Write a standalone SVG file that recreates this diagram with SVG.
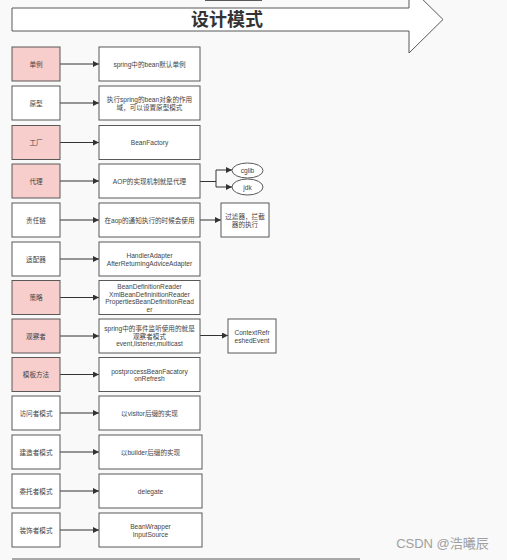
<svg xmlns="http://www.w3.org/2000/svg" width="507" height="560" viewBox="0 0 507 560">
<style>
  .bg{fill:#f9f9f9}
  .box{fill:#ffffff;stroke:#595959;stroke-width:1}
  .pink{fill:#f8cecc;stroke:#595959;stroke-width:1}
  .t{font-family:"Liberation Sans","Noto Sans CJK SC",sans-serif;font-size:6.6px;fill:#444444;text-anchor:middle;dominant-baseline:central}
  .title{font-family:"Liberation Sans","Noto Sans CJK SC",sans-serif;font-size:18px;font-weight:bold;fill:#333333;text-anchor:middle;dominant-baseline:central}
  .wm{font-family:"Liberation Sans","Noto Sans CJK SC",sans-serif;font-size:13px;fill:#a0a0a0;text-anchor:middle;dominant-baseline:central}
  .ln{fill:none;stroke:#333333;stroke-width:1}
</style>
<defs>
  <marker id="ah" viewBox="0 0 10 10" refX="10" refY="5" markerWidth="7" markerHeight="6" markerUnits="userSpaceOnUse" orient="auto">
    <path d="M0,0 L10,5 L0,10 Z" fill="#333333"/>
  </marker>
</defs>
<rect class="bg" x="0" y="0" width="507" height="560"/>
<line x1="205" y1="0.5" x2="262" y2="0.5" stroke="#595959" stroke-width="1"/>

<g id="title">
  <polygon class="box" points="12,8 409,8 409,-14 443,19.5 409,53 409,31 12,31"/>
  <text class="title" x="227" y="20">设计模式</text>
</g>

<g id="connectors">
  <line class="ln" x1="60" y1="64" x2="99" y2="64" marker-end="url(#ah)"/>
  <line class="ln" x1="60" y1="103" x2="99" y2="103" marker-end="url(#ah)"/>
  <line class="ln" x1="60" y1="142.5" x2="99" y2="142.5" marker-end="url(#ah)"/>
  <line class="ln" x1="60" y1="181" x2="99" y2="181" marker-end="url(#ah)"/>
  <line class="ln" x1="60" y1="220" x2="99" y2="220" marker-end="url(#ah)"/>
  <line class="ln" x1="60" y1="259" x2="99" y2="259" marker-end="url(#ah)"/>
  <line class="ln" x1="60" y1="297.5" x2="99" y2="297.5" marker-end="url(#ah)"/>
  <line class="ln" x1="60" y1="336" x2="99" y2="336" marker-end="url(#ah)"/>
  <line class="ln" x1="60" y1="374.5" x2="99" y2="374.5" marker-end="url(#ah)"/>
  <line class="ln" x1="60" y1="413" x2="99" y2="413" marker-end="url(#ah)"/>
  <line class="ln" x1="60" y1="452" x2="99" y2="452" marker-end="url(#ah)"/>
  <line class="ln" x1="60" y1="491" x2="99" y2="491" marker-end="url(#ah)"/>
  <line class="ln" x1="60" y1="530" x2="99" y2="530" marker-end="url(#ah)"/>
  <polyline class="ln" points="200,181.5 216,181.5 216,170 232,170" marker-end="url(#ah)"/>
  <polyline class="ln" points="216,181.5 216,187 232,187" marker-end="url(#ah)"/>
  <line class="ln" x1="200" y1="220" x2="221" y2="220" marker-end="url(#ah)"/>
  <line class="ln" x1="200" y1="335.5" x2="228" y2="335.5" marker-end="url(#ah)"/>
</g>

<g id="n-singleton"><rect class="pink" x="12" y="47" width="48" height="34"/><text class="t" x="36" y="64">单例</text></g>
<g id="n-singleton-d"><rect class="box" x="99" y="47" width="101" height="34"/><text class="t" x="149.5" y="64">spring中的bean默认单例</text></g>

<g id="n-prototype"><rect class="box" x="12" y="86" width="48" height="34"/><text class="t" x="36" y="103">原型</text></g>
<g id="n-prototype-d"><rect class="box" x="99" y="86" width="101" height="34"/><text class="t" x="149.5" y="99">执行spring的bean对象的作用</text><text class="t" x="149.5" y="107">域，可以设置原型模式</text></g>

<g id="n-factory"><rect class="pink" x="12" y="125.5" width="48" height="34"/><text class="t" x="36" y="142.5">工厂</text></g>
<g id="n-factory-d"><rect class="box" x="99" y="125.5" width="101" height="34"/><text class="t" x="149.5" y="142.5">BeanFactory</text></g>

<g id="n-proxy"><rect class="pink" x="12" y="164" width="48" height="34"/><text class="t" x="36" y="181">代理</text></g>
<g id="n-proxy-d"><rect class="box" x="99" y="164" width="101" height="34"/><text class="t" x="149.5" y="181">AOP的实现机制就是代理</text></g>
<g id="n-cglib"><ellipse class="box" cx="247.5" cy="170.5" rx="15.5" ry="7.5"/><text class="t" x="247.5" y="170.5">cglib</text></g>
<g id="n-jdk"><ellipse class="box" cx="247.5" cy="187" rx="15.5" ry="8"/><text class="t" x="247.5" y="187">jdk</text></g>

<g id="n-chain"><rect class="box" x="12" y="203" width="48" height="34"/><text class="t" x="36" y="220">责任链</text></g>
<g id="n-chain-d"><rect class="box" x="99" y="203" width="101" height="34"/><text class="t" x="149.5" y="220">在aop的通知执行的时候会使用</text></g>
<g id="n-chain-r"><rect class="box" x="221" y="203" width="48" height="34"/><text class="t" x="245" y="216.5">过滤器，拦截</text><text class="t" x="245" y="224.5">器的执行</text></g>

<g id="n-adapter"><rect class="box" x="12" y="242" width="48" height="34"/><text class="t" x="36" y="259">适配器</text></g>
<g id="n-adapter-d"><rect class="box" x="99" y="242" width="101" height="34"/><text class="t" x="149.5" y="255">HandlerAdapter</text><text class="t" x="149.5" y="263">AfterReturningAdviceAdapter</text></g>

<g id="n-strategy"><rect class="pink" x="12" y="280.5" width="48" height="34"/><text class="t" x="36" y="297.5">策略</text></g>
<g id="n-strategy-d"><rect class="box" x="99" y="280.5" width="101" height="34"/><text class="t" x="149.5" y="286.5">BeanDefinitionReader</text><text class="t" x="149.5" y="294.2">XmlBeanDefininitionReader</text><text class="t" x="149.5" y="301.9">PropertiesBeanDefinitionRead</text><text class="t" x="149.5" y="309.6">er</text></g>

<g id="n-observer"><rect class="pink" x="12" y="319" width="48" height="34"/><text class="t" x="36" y="336">观察者</text></g>
<g id="n-observer-d"><rect class="box" x="99" y="319" width="101" height="34"/><text class="t" x="149.5" y="328.7">spring中的事件监听使用的就是</text><text class="t" x="149.5" y="336.2">观察者模式</text><text class="t" x="149.5" y="343.7">event,listener,multicast</text></g>
<g id="n-observer-r"><rect class="box" x="228" y="319" width="48" height="34"/><text class="t" x="252" y="332">ContextRefr</text><text class="t" x="252" y="340">eshedEvent</text></g>

<g id="n-template"><rect class="pink" x="12" y="357.5" width="48" height="34"/><text class="t" x="36" y="374.5">模板方法</text></g>
<g id="n-template-d"><rect class="box" x="99" y="357.5" width="101" height="34"/><text class="t" x="149.5" y="371">postprocessBeanFacatory</text><text class="t" x="149.5" y="378.5">onRefresh</text></g>

<g id="n-visitor"><rect class="box" x="12" y="396" width="48" height="34"/><text class="t" x="36" y="413">访问者模式</text></g>
<g id="n-visitor-d"><rect class="box" x="99" y="396" width="101" height="34"/><text class="t" x="149.5" y="413">以visitor后缀的实现</text></g>

<g id="n-builder"><rect class="box" x="12" y="435" width="48" height="34"/><text class="t" x="36" y="452">建造者模式</text></g>
<g id="n-builder-d"><rect class="box" x="99" y="435" width="103" height="34"/><text class="t" x="150.5" y="452">以builder后缀的实现</text></g>

<g id="n-delegate"><rect class="box" x="12" y="474" width="48" height="34"/><text class="t" x="36" y="491">委托者模式</text></g>
<g id="n-delegate-d"><rect class="box" x="99" y="474" width="103" height="34"/><text class="t" x="150.5" y="491">delegate</text></g>

<g id="n-decorator"><rect class="box" x="12" y="513" width="48" height="34"/><text class="t" x="36" y="530">装饰者模式</text></g>
<g id="n-decorator-d"><rect class="box" x="99" y="513" width="103" height="34"/><text class="t" x="150.5" y="526">BeanWrapper</text><text class="t" x="150.5" y="534">InputSource</text></g>

<line x1="12" y1="559" x2="360" y2="559" stroke="#595959" stroke-width="1"/>
<text class="wm" x="442.5" y="543.5">CSDN @浩曦辰</text>
</svg>
